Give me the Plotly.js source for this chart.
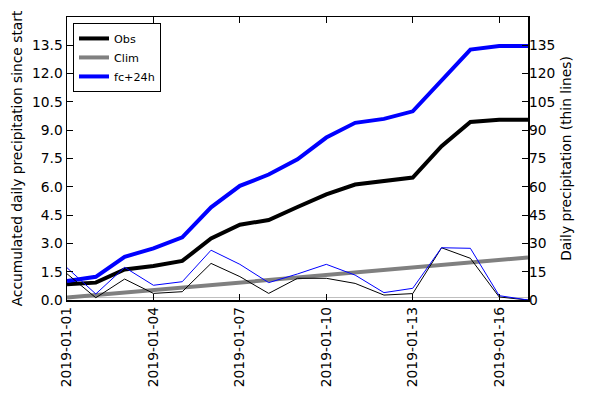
<!DOCTYPE html>
<html>
<head>
<meta charset="utf-8">
<script src="https://cdn.plot.ly/plotly-3.0.1.min.js"></script>
<style>html,body{margin:0;padding:0;background:#fff;}#chart{width:590px;height:397px;}</style>
</head>
<body>
<div id="chart"></div>
<script>
const dates = ["2019-01-01","2019-01-02","2019-01-03","2019-01-04","2019-01-05","2019-01-06","2019-01-07","2019-01-08","2019-01-09","2019-01-10","2019-01-11","2019-01-12","2019-01-13","2019-01-14","2019-01-15","2019-01-16","2019-01-17"];
const obsAccum = [0.83,0.92,1.62,1.80,2.07,3.26,3.99,4.24,4.93,5.60,6.12,6.28,6.49,8.15,9.44,9.55,9.56];
const climAccum = [0.13,0.26,0.40,0.53,0.66,0.79,0.93,1.06,1.19,1.32,1.46,1.59,1.72,1.85,1.98,2.12,2.25];
const fcAccum = [1.00,1.23,2.29,2.74,3.32,4.91,6.05,6.65,7.46,8.61,9.39,9.60,10.00,11.65,13.27,13.46,13.46];
const obsDaily = [13.9,1.2,11.1,3.5,4.4,19.4,12.4,3.5,11.5,11.5,8.8,2.6,3.4,27.7,22.1,1.6,0.0];
const climDaily = [1.32,1.32,1.32,1.32,1.32,1.32,1.32,1.32,1.32,1.32,1.32,1.32,1.32,1.32,1.32,1.32,1.32];
const fcDaily = [17.1,3.2,17.3,7.8,9.7,26.4,18.9,9.2,13.8,18.9,13.2,3.9,6.2,27.7,27.4,2.3,0.0];
const leftTicks = [0,1.5,3,4.5,6,7.5,9,10.5,12,13.5];
const rightTicks = [0,15,30,45,60,75,90,105,120,135];
const xTicks = ["2019-01-01","2019-01-04","2019-01-07","2019-01-10","2019-01-13","2019-01-16"];

const traces = [
  {x: dates, y: climDaily, yaxis: 'y2', mode: 'lines', line: {color: '#808080', width: 1}, opacity: 0.5, showlegend: false},
  {x: dates, y: obsDaily, yaxis: 'y2', mode: 'lines', line: {color: '#000000', width: 1}, showlegend: false},
  {x: dates, y: fcDaily, yaxis: 'y2', mode: 'lines', line: {color: '#0000ff', width: 1}, showlegend: false},
  {x: dates, y: obsAccum, name: 'Obs', mode: 'lines', line: {color: '#000000', width: 4}},
  {x: dates, y: climAccum, name: 'Clim', mode: 'lines', line: {color: '#808080', width: 4}},
  {x: dates, y: fcAccum, name: 'fc+24h', mode: 'lines', line: {color: '#0000ff', width: 4}}
];

const font = {family: 'DejaVu Sans', size: 13.8, color: '#000'};
const layout = {
  width: 590, height: 397,
  margin: {l: 67, r: 62, t: 17, b: 97, pad: 0},
  paper_bgcolor: '#fff', plot_bgcolor: '#fff',
  font: font,
  showlegend: true,
  legend: {x: 0.013, y: 0.979, xanchor: 'left', yanchor: 'top', bordercolor: '#000', borderwidth: 1, bgcolor: '#fff', font: {family: 'DejaVu Sans', size: 11.2, color: '#000'}, itemwidth: 30, tracegroupgap: 0},
  xaxis: {
    type: 'date', range: ['2019-01-01', '2019-01-17'],
    tickmode: 'array', tickvals: xTicks, ticktext: xTicks,
    tickangle: -90, ticks: 'inside', ticklen: 6, tickcolor: '#000',
    showline: true, linecolor: '#000', linewidth: 1.5, mirror: 'ticks',
    showgrid: false, zeroline: false, tickfont: font
  },
  yaxis: {
    range: [0, 15], tickmode: 'array', tickvals: leftTicks, ticktext: leftTicks.map(v => v.toFixed(1)),
    ticks: 'inside', ticklen: 6, tickcolor: '#000',
    showline: true, linecolor: '#000', linewidth: 1.5, mirror: true,
    showgrid: false, zeroline: false, tickfont: font,
    title: {text: 'Accumulated daily precipitation since start', font: font, standoff: 6}
  },
  yaxis2: {
    range: [0, 150], overlaying: 'y', side: 'right', tickmode: 'array', tickvals: rightTicks,
    ticktext: rightTicks.map(String),
    ticks: 'inside', ticklen: 6, tickcolor: '#000',
    showline: false, showgrid: false, zeroline: false, tickfont: font,
    title: {text: 'Daily precipitation (thin lines)', font: font, standoff: 6}
  }
};
Plotly.newPlot('chart', traces, layout, {displayModeBar: false, staticPlot: true});
</script>
</body>
</html>
